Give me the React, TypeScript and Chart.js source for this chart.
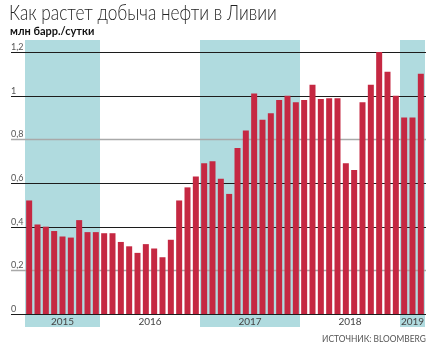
import React, { useEffect, useLayoutEffect, useRef, useState } from 'react';
import { Chart, registerables } from 'chart.js';

Chart.register(...registerables);

const months = [
  '04.2015', '05.2015', '06.2015', '07.2015', '08.2015', '09.2015', '10.2015', '11.2015', '12.2015',
  '01.2016', '02.2016', '03.2016', '04.2016', '05.2016', '06.2016', '07.2016', '08.2016', '09.2016', '10.2016', '11.2016', '12.2016',
  '01.2017', '02.2017', '03.2017', '04.2017', '05.2017', '06.2017', '07.2017', '08.2017', '09.2017', '10.2017', '11.2017', '12.2017',
  '01.2018', '02.2018', '03.2018', '04.2018', '05.2018', '06.2018', '07.2018', '08.2018', '09.2018', '10.2018', '11.2018', '12.2018',
  '01.2019', '02.2019', '03.2019',
];

const production = [
  0.52, 0.41, 0.40, 0.38, 0.355, 0.35, 0.43, 0.375, 0.375,
  0.37, 0.37, 0.33, 0.31, 0.28, 0.32, 0.30, 0.26, 0.34, 0.52, 0.58, 0.63,
  0.69, 0.70, 0.62, 0.55, 0.76, 0.84, 1.01, 0.89, 0.92, 0.98, 1.0, 0.97,
  0.98, 1.05, 0.985, 0.988, 0.988, 0.69, 0.66, 0.97, 1.05, 1.2, 1.11, 1.0,
  0.90, 0.90, 1.10,
];

const yearLabels = ['2015', '2016', '2017', '2018', '2019'];
const monthsPerYear = [9, 12, 12, 12, 3];
const shadedYears = ['2015', '2017', '2019'];

const yTicks = [0, 0.2, 0.4, 0.6, 0.8, 1, 1.2];
const yTickLabels = ['0', '0,2', '0,4', '0,6', '0,8', '1', '1,2'];
const lightTicks = [0.2, 0.8];

const TITLE = 'Как растет добыча нефти в Ливии';
const SUBTITLE = 'млн барр./сутки';
const SOURCE = 'ИСТОЧНИК: BLOOMBERG';

const FONT = 'Lato, "Open Sans", sans-serif';

const decorPlugin = {
  id: 'decor',
  beforeDatasetsDraw(chart: any) {
    const { ctx, scales } = chart;
    const x = scales.x;
    const y = scales.y;
    const half = (x.getPixelForValue(1) - x.getPixelForValue(0)) / 2;
    const shadeTop = y.top - 12;
    const shadeBottom = y.bottom + 13;
    ctx.save();
    let idx = 0;
    yearLabels.forEach((yr, i) => {
      const n = monthsPerYear[i];
      const left = x.getPixelForValue(idx) - half;
      const right = x.getPixelForValue(idx + n - 1) + half;
      if (shadedYears.includes(yr)) {
        ctx.fillStyle = '#b0dbdf';
        ctx.fillRect(left, shadeTop, right - left, shadeBottom - shadeTop);
      }
      idx += n;
    });
    const gridLeft = 11;
    const gridRight = x.right + 1;
    yTicks.forEach((v, i) => {
      const py = Math.round(y.getPixelForValue(v)) + 0.5;
      const light = lightTicks.includes(v);
      ctx.beginPath();
      ctx.strokeStyle = light ? '#a9a9a9' : '#1c1c1c';
      ctx.lineWidth = light ? 1.6 : 1.2;
      ctx.moveTo(gridLeft, py);
      ctx.lineTo(gridRight, py);
      ctx.stroke();
      ctx.fillStyle = '#555';
      ctx.font = `9px ${FONT}`;
      ctx.textAlign = 'left';
      ctx.textBaseline = 'alphabetic';
      ctx.fillText(yTickLabels[i], gridLeft, py - 2.5);
    });
    idx = 0;
    ctx.fillStyle = '#444';
    ctx.font = `10px ${FONT}`;
    ctx.textAlign = 'center';
    ctx.textBaseline = 'alphabetic';
    yearLabels.forEach((yr, i) => {
      const n = monthsPerYear[i];
      const left = x.getPixelForValue(idx) - half;
      const right = x.getPixelForValue(idx + n - 1) + half;
      ctx.fillText(yr, (left + right) / 2, y.bottom + 11);
      idx += n;
    });
    ctx.restore();
  },
};

function FitText({ text, width, style, anchor }: { text: string; width: number; style: any; anchor: 'left' | 'right' }) {
  const ref = useRef<HTMLDivElement | null>(null);
  const [scale, setScale] = useState(1);
  useLayoutEffect(() => {
    if (!ref.current) return;
    const w = ref.current.scrollWidth;
    if (w > 0) setScale(width / w);
  }, [text, width]);
  return (
    <div
      ref={ref}
      style={{
        ...style,
        position: 'absolute',
        whiteSpace: 'nowrap',
        transform: `scaleX(${scale})`,
        transformOrigin: anchor === 'left' ? 'left top' : 'right top',
      }}
    >
      {text}
    </div>
  );
}

export default function App() {
  const canvasRef = useRef<HTMLCanvasElement | null>(null);

  useEffect(() => {
    if (!canvasRef.current) return;
    const chart = new Chart(canvasRef.current, {
      type: 'bar',
      data: {
        labels: months,
        datasets: [
          {
            data: production,
            backgroundColor: '#c52842',
            borderWidth: 0,
            barPercentage: 0.72,
            categoryPercentage: 1,
          },
        ],
      },
      options: {
        animation: false,
        responsive: false,
        maintainAspectRatio: false,
        layout: { padding: { left: 25, right: 13, top: 52, bottom: 37 } },
        plugins: {
          legend: { display: false },
          tooltip: { enabled: false },
          title: { display: false },
        },
        scales: {
          x: { display: false, offset: true },
          y: { display: false, min: 0, max: 1.2 },
        },
      },
      plugins: [decorPlugin],
    });
    return () => chart.destroy();
  }, []);

  return (
    <div style={{ position: 'absolute', left: 0, top: 0, width: 438, height: 351, background: '#fff', overflow: 'hidden' }}>
      <canvas ref={canvasRef} width={438} height={351} style={{ position: 'absolute', left: 0, top: 0, width: 438, height: 351 }} />
      <FitText
        text={TITLE}
        width={268}
        anchor="left"
        style={{ left: 9, top: 0, fontFamily: FONT, fontWeight: 300, fontSize: 21, lineHeight: '24px', color: '#222' }}
      />
      <div style={{ position: 'absolute', left: 10, top: 24, fontFamily: FONT, fontWeight: 700, fontSize: 11, lineHeight: '13px', color: '#111', whiteSpace: 'nowrap' }}>
        {SUBTITLE}
      </div>
      <FitText
        text={SOURCE}
        width={104}
        anchor="right"
        style={{ right: 12, top: 333, fontFamily: FONT, fontWeight: 400, fontSize: 10, lineHeight: '11px', color: '#555' }}
      />
    </div>
  );
}
